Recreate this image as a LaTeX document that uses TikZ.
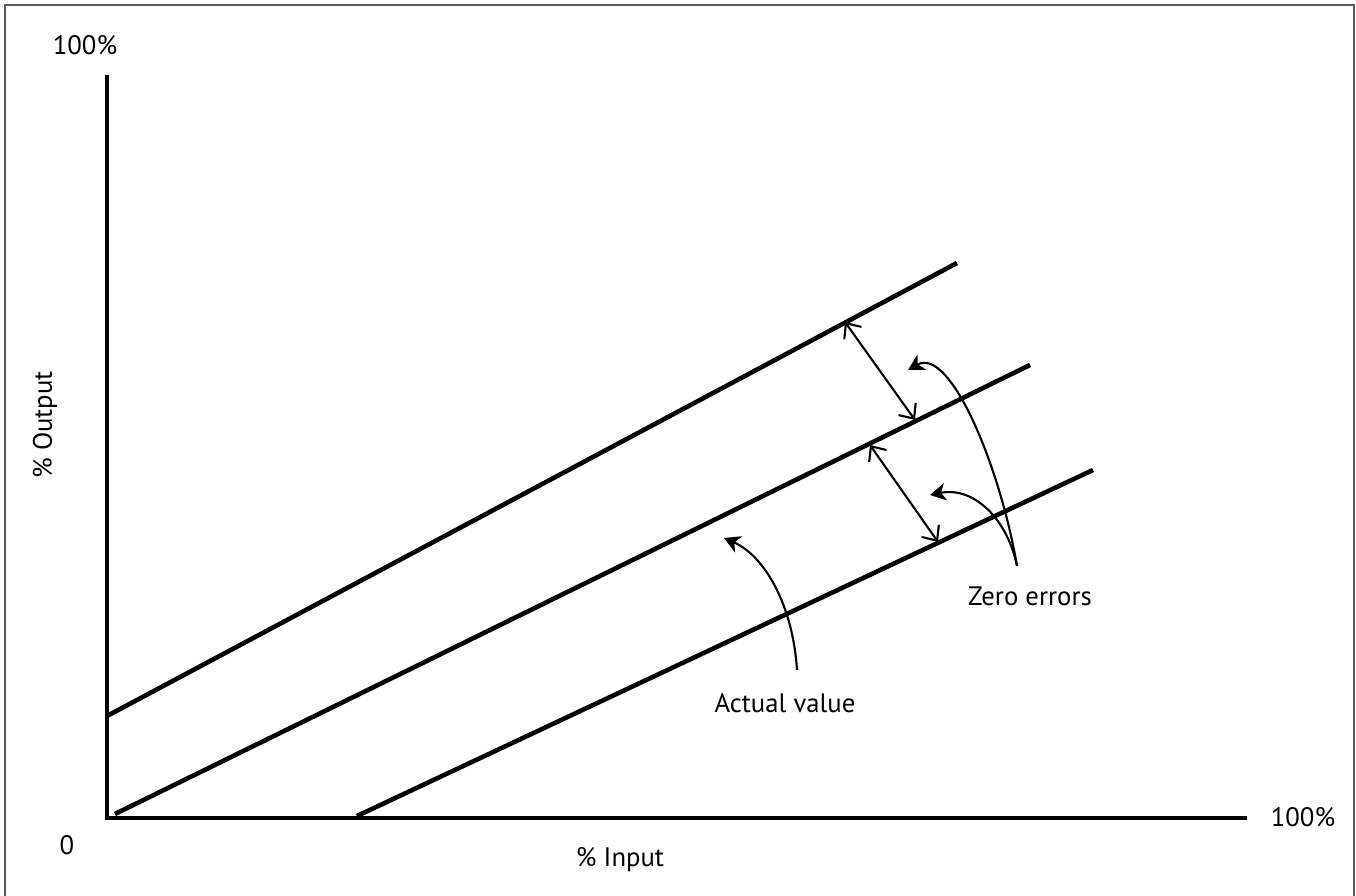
\documentclass[tikz,border=0pt]{standalone}
\usepackage{fontspec}
\setmainfont{PT Sans}
\usepackage{tikz}
\usetikzlibrary{positioning}
\usetikzlibrary{arrows.meta}
\tikzset{
	axis/.style = {line width=1.35pt, miter limit=10},
	level/.style = {line width=1.3pt},
	gap/.style = {{Straight Barb[length=3.4pt,width=6pt]}-{Straight Barb[length=3.4pt,width=6pt]},
	 line width=0.6pt},
	callout/.style = {-{Stealth[length=4.5pt,width=5pt,inset=1.3pt]}, line width=0.6pt},
	txt/.style = {inner sep=0pt, font=\fontsize{7.6}{9}\selectfont},
}

\begin{document}
\begin{tikzpicture}
  \useasboundingbox (0,0) rectangle (13.56,8.96);
               \coordinate (FrameBL) at (0.05,-0.02);
               \coordinate (FrameTL) at (0.05,8.91);
               \coordinate (FrameTR) at (13.54,8.91);
               \coordinate (FrameBR) at (13.54,-0.02);
               \draw[gray!70!black, line width=0.55pt] (FrameBL) -- (FrameTL) -- (FrameTR) -- (FrameBR);

               \coordinate (Origin) at (1.07,0.78);
               \coordinate (AxisTop) at (1.07,8.21);
               \coordinate (AxisEnd) at (12.47,0.78);
               \draw[axis] (AxisTop) -- (Origin) -- (AxisEnd);

               \coordinate (HighStart) at (1.07,1.80);
               \coordinate (HighEnd) at (9.57,6.33);
               \coordinate (TrueStart) at (1.15,0.82);
               \coordinate (TrueEnd) at (10.30,5.31);
               \coordinate (LowStart) at (3.57,0.80);
               \coordinate (LowEnd) at (10.93,4.26);
               \draw[level] (HighStart) -- (HighEnd);
               \draw[level] (TrueStart) -- (TrueEnd);
               \draw[level] (LowStart) -- (LowEnd);

               \coordinate (GapAtop) at (8.45,5.74);
               \coordinate (GapAbot) at (9.15,4.76);
               \coordinate (GapBtop) at (8.70,4.51);
               \coordinate (GapBbot) at (9.38,3.54);
                \draw[gap] (GapAtop) -- (GapAbot);
                \draw[gap] (GapBtop) -- (GapBbot);

               \node at(0.85,8.51) (TopPct) [txt] {100\%};
               \node at(0.67,0.51) (Zero) [txt] {0};
               \node at(13.03,0.79) (RightPct) [txt] {100\%};
               \node at(6.20,0.36) (Input) [txt] {\% Input};
               \node at(0.45,4.71) (Output) [txt, rotate=90] {\% Output};
               \node at(7.85,1.93) (Actual) [txt] {Actual value};
               \node at(10.30,3.00) (ZeroErr) [txt] {Zero errors};

               \coordinate (ZeroFoot) at (10.17,3.30);
               \coordinate (ZeroTipA) at (9.08,5.26);
               \coordinate (ZeroTipB) at (9.30,4.01);
               \coordinate (ActualFoot) at (7.97,2.26);
               \coordinate (ActualTip) at (7.24,3.58);
                \draw[callout] (ZeroFoot) .. controls (10.0,4.3) and (9.5,5.5) .. (ZeroTipA);
                \draw[callout] (ZeroFoot) .. controls (10.08,3.75) and (9.75,4.1) .. (ZeroTipB);
                \draw[callout] (ActualFoot) .. controls (7.93,2.9) and (7.65,3.4) .. (ActualTip);
        \end{tikzpicture}
\end{document}
